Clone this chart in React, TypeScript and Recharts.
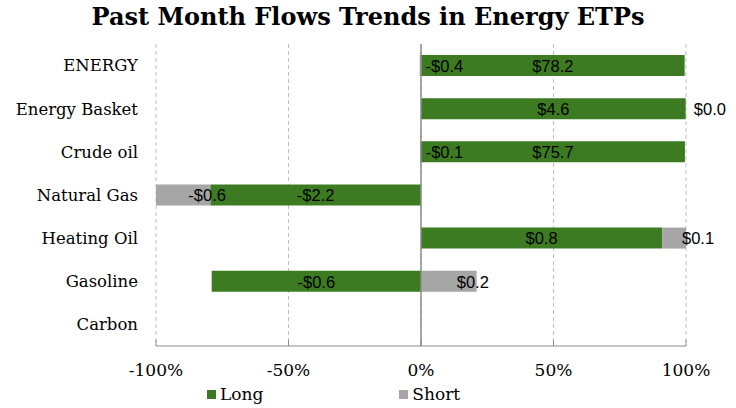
import React from 'react';
import {
    BarChart,
    Bar,
    XAxis,
    YAxis,
    CartesianGrid,
    ReferenceLine,
    Legend,
    LabelList
} from 'recharts';

// share of each segment in % (signed)
const categories = ['ENERGY', 'Energy Basket', 'Crude oil', 'Natural Gas', 'Heating Oil', 'Gasoline', 'Carbon'];
const longShare = [99.5, 99.9, 99.6, -79.5, 91, -79, null];
const shortShare = [-0.5, 0.1, -0.4, -20.5, 9, 21, null];
// flow amounts shown in the labels ($bn)
const longFlow = [78.2, 4.6, 75.7, -2.2, 0.8, -0.6, null];
const shortFlow = [-0.4, 0.0, -0.1, -0.6, 0.1, 0.2, null];
const xTicks = [-100, -50, 0, 50, 100];

const GREEN = '#3d7b22';
const GREY = '#a6a6a6';

const data = categories.map((name, i) => ({
    name,
    long: longShare[i],
    short: shortShare[i],
    longFlow: longFlow[i],
    shortFlow: shortFlow[i]
}));

const fmtMoney = (v: number) => (v < 0 ? `-$${Math.abs(v).toFixed(1)}` : `$${v.toFixed(1)}`);

const makeLabel = (shift: number) => (props: any) => {
    const { x, y, width, height, value } = props;
    if (value === null || value === undefined) return null;
    const cx = Number(x) + Number(width) / 2 + shift;
    const cy = Number(y) + Number(height) / 2 + 2;
    return (
        <text
            x={cx}
            y={cy}
            textAnchor='middle'
            dominantBaseline='middle'
            fontFamily='Liberation Sans, Arial, sans-serif'
            fontSize={16.5}
            fill='#000'
        >
            {fmtMoney(Number(value))}
        </text>
    );
};

const LegendContent = (props: any) => {
    const items = props.payload || [];
    return (
        <div
            style={{
                display: 'flex',
                paddingLeft: 207,
                paddingTop: 8,
                gap: 136,
                fontFamily: 'DejaVu Serif, serif',
                fontSize: 17
            }}
        >
            {items.map((it: any) => (
                <div key={it.value} style={{ display: 'flex', alignItems: 'center' }}>
                    <span style={{ display: 'inline-block', width: 9, height: 9, background: it.color, marginRight: 4 }} />
                    <span>{it.value}</span>
                </div>
            ))}
        </div>
    );
};

export default function App() {
    return (
        <div style={{ position: 'absolute', left: 0, top: 0, width: 736, height: 408, background: '#fff' }}>
            <div
                style={{
                    position: 'absolute',
                    top: 2,
                    left: 0,
                    width: 736,
                    textAlign: 'center',
                    fontFamily: 'DejaVu Serif, serif',
                    fontWeight: 'bold',
                    fontSize: 24
                }}
            >
                Past Month Flows Trends in Energy ETPs
            </div>
            <BarChart
                width={736}
                height={408}
                data={data}
                layout='vertical'
                stackOffset='sign'
                margin={{ top: 44, right: 50, left: 0, bottom: 0 }}
                barSize={21}
            >
                <CartesianGrid horizontal={false} strokeDasharray='4 3' stroke='#bfbfbf' />
                <XAxis
                    type='number'
                    domain={[-100, 100]}
                    ticks={xTicks}
                    tickFormatter={(v) => `${v}%`}
                    height={30}
                    stroke='#8c8c8c'
                    tickSize={-6}
                    tickMargin={24}
                    tick={{ fill: '#000', fontFamily: 'DejaVu Serif, serif', fontSize: 17 }}
                />
                <YAxis
                    type='category'
                    dataKey='name'
                    width={156}
                    axisLine={false}
                    tickLine={false}
                    tickSize={0}
                    tickMargin={18}
                    tick={{ fill: '#000', fontFamily: 'DejaVu Serif, serif', fontSize: 16.5 }}
                />
                <ReferenceLine x={0} stroke='#8c8c8c' strokeWidth={1.5} />
                <Bar dataKey='long' name='Long' stackId='a' fill={GREEN} isAnimationActive={false}>
                    <LabelList dataKey='longFlow' content={makeLabel(0)} />
                </Bar>
                <Bar dataKey='short' name='Short' stackId='a' fill={GREY} isAnimationActive={false}>
                    <LabelList dataKey='shortFlow' content={makeLabel(24)} />
                </Bar>
                <Legend verticalAlign='bottom' height={32} wrapperStyle={{ left: 0, width: 736 }} content={LegendContent} />
            </BarChart>
        </div>
    );
}
